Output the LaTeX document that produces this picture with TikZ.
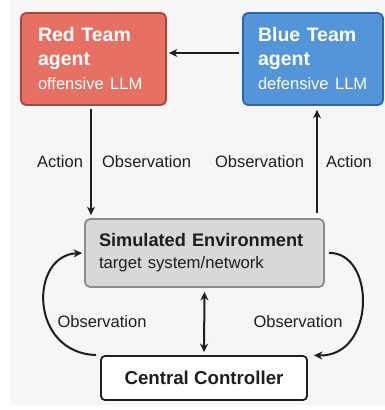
\documentclass[tikz,border=0pt]{standalone}
\usepackage{fontspec}
\setmainfont{Liberation Sans}
\usetikzlibrary{arrows.meta}
\definecolor{bgcol}{HTML}{F6F6F6}
\definecolor{redfill}{HTML}{E57063}
\definecolor{redline}{HTML}{A9473D}
\definecolor{bluefill}{HTML}{5494D8}
\definecolor{blueline}{HTML}{2C64AE}
\definecolor{envfill}{HTML}{D8D8D8}
\definecolor{envline}{HTML}{8C8C8C}
\definecolor{ink}{HTML}{1E1E1E}
\begin{document}
\begin{tikzpicture}[x=1pt, y=-1pt,
	agent/.style={rectangle, rounded corners=5pt, line width=1.8pt, align=left, text=white, minimum height=92pt, inner ysep=0pt, font=\bfseries\fontsize{19.5}{24}\selectfont},
	lbl/.style={font=\fontsize{16.5}{20}\selectfont, text=ink, inner sep=2pt},
	conn/.style={line width=2pt, draw=ink, -{Stealth[length=8.5pt, width=8pt]}}]
		\fill[bgcol] (10,0) rectangle (385,405);
		\useasboundingbox (0,0) rectangle (385,410);
		\node[agent, fill=redfill, draw=redline, text width=111pt, inner xsep=17pt] (red) at (93.5,59) {Red Team\\agent\\{\mdseries\fontsize{16.5}{24}\selectfont offensive LLM}};
		\node[agent, fill=bluefill, draw=blueline, text width=110pt, inner xsep=15pt] (blue) at (313,59) {Blue Team\\agent\\{\mdseries\fontsize{16.5}{24}\selectfont defensive LLM}};
		\node[rectangle, rounded corners=5pt, line width=1.8pt, fill=envfill, draw=envline, align=left, text=ink, text width=211pt, inner xsep=14pt, minimum height=68pt, font=\bfseries\fontsize{18.2}{22}\selectfont] (env) at (204.5,253) {Simulated Environment\\{\mdseries\fontsize{16.7}{22}\selectfont target system/network}};
		\node[rectangle, rounded corners=4pt, line width=1.8pt, fill=white, draw=ink, text=ink, minimum width=206pt, minimum height=44pt, font=\bfseries\fontsize{18.7}{22}\selectfont] (ctrl) at (204,378) {Central Controller};
		\draw[conn, shorten <=3pt, shorten >=2pt] ([yshift=6pt]blue.west) -- ([yshift=6pt]red.east);
		\draw[conn, shorten <=3pt, shorten >=3pt] ([xshift=-2.5pt]red.south) -- node[lbl, left=5pt] (act1) {Action} node[lbl, right=8pt] (obs1) {Observation} ([xshift=-2.5pt]red.south |- env.north);
		\draw[conn, shorten <=5pt, shorten >=4pt] ([xshift=4pt]blue.south |- env.north) -- node[lbl, left=10pt] (obs2) {Observation} node[lbl, right=6pt] (act2) {Action} ([xshift=4pt]blue.south);
		\draw[conn, {Stealth[length=8.5pt, width=8pt]}-{Stealth[length=8.5pt, width=8pt]}, shorten <=4pt, shorten >=3pt] (env.south) -- (ctrl.north);
		\draw[conn, shorten <=4pt, shorten >=2pt] (ctrl.north west) .. controls +(-71,-2) and +(-55,2) .. (env.west);
		\draw[conn, shorten <=4pt, shorten >=6pt] (env.east) .. controls +(51,-1) and +(68,2) .. (ctrl.north east);
		\node[lbl] (obs3) at (102,322) {Observation};
		\node[lbl] (obs4) at (298,322) {Observation};
\end{tikzpicture}
\end{document}
